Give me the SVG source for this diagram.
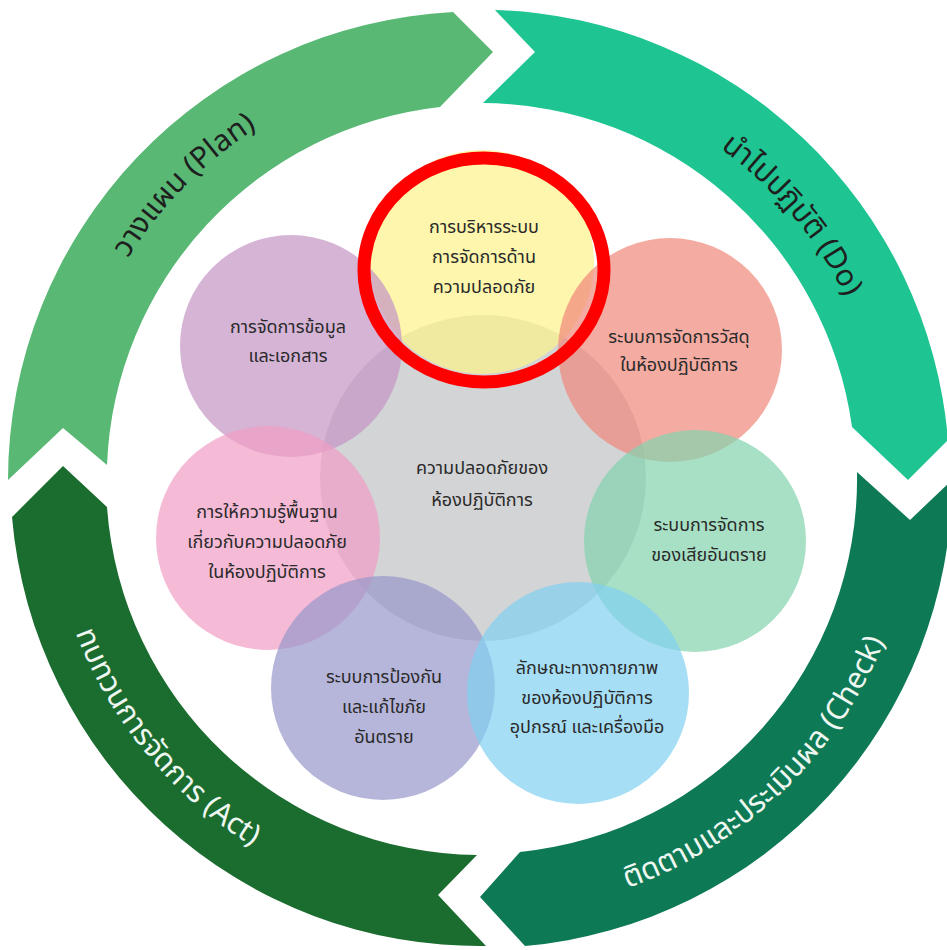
<svg xmlns="http://www.w3.org/2000/svg" width="947" height="950" viewBox="0 0 947 950">
  <style>
    .arrowtxt { font-family: "Noto Sans Thai", "Noto Sans", "DejaVu Sans", sans-serif; font-size: 30px; }
    .dark { fill: #1e1e1e; }
    .light { fill: #eef7f1; }
    .bub { opacity: 0.7; }
    .lbl { font-family: "Noto Sans Thai", "Noto Sans", "DejaVu Sans", sans-serif; font-size: 18px; fill: #2a2a2a; text-anchor: middle; }
  </style>
  <defs>
    <path id="pPlan" d="M 65,480.2 A 415 415 0 0 1 477.8,63"/>
    <path id="pDo" d="M 514.8,71.5 A 408 408 0 0 1 886.5,512.8"/>
    <path id="pCheck" d="M 433.7,911.5 A 436 436 0 0 0 915,448.3"/>
    <path id="pAct" d="M 54.1,399.8 A 433 433 0 0 0 477,911"/>
  </defs>
  <rect width="947" height="950" fill="#ffffff"/>

  <g id="stage-plan">
    <path d="M 8,480 A 469 469 0 0 1 453,12 L 493,52 L 440,107 A 375 375 0 0 0 107,465 L 63,428 Z" fill="#58b874"/>
    <text class="arrowtxt dark"><textPath href="#pPlan" startOffset="50%" text-anchor="middle">วางแผน (Plan)</textPath></text>
  </g>
  <g id="stage-do">
    <path d="M 495,10 A 469 469 0 0 1 948,440 L 908,480 L 852,427 A 375 375 0 0 0 483,103 L 535,52 Z" fill="#1ec491"/>
    <text class="arrowtxt dark"><textPath href="#pDo" startOffset="50%" text-anchor="middle">นำไปปฏิบัติ (Do)</textPath></text>
  </g>
  <g id="stage-check">
    <path d="M 952,480 A 469 469 0 0 1 525,946 L 480,897 L 520,852 A 375 375 0 0 0 857,472 L 910,520 Z" fill="#0e7a55"/>
    <text class="arrowtxt light"><textPath href="#pCheck" startOffset="50%" text-anchor="middle">ติดตามและประเมินผล (Check)</textPath></text>
  </g>
  <g id="stage-act">
    <path d="M 486,946 A 469 469 0 0 1 12,517 L 63,466 L 107,507 A 375 375 0 0 0 477,855 L 438,895 Z" fill="#1b6c2f"/>
    <text class="arrowtxt light"><textPath href="#pAct" startOffset="50%" text-anchor="middle">ทบทวนการจัดการ (Act)</textPath></text>
  </g>

  <g id="center">
    <circle cx="483" cy="478" r="163" fill="#d3d4d6"/>
  </g>
  <g id="n-top">
    <circle class="bub" cx="482" cy="262" r="112" fill="#fcf289"/>
  </g>
  <g id="n-topleft">
    <circle class="bub" cx="291" cy="346" r="111" fill="#c394c4"/>
  </g>
  <g id="n-topright">
    <circle class="bub" cx="670" cy="350" r="112" fill="#ef887a"/>
  </g>
  <g id="n-left">
    <circle class="bub" cx="268" cy="538" r="112" fill="#f19cc4"/>
  </g>
  <g id="n-right">
    <circle class="bub" cx="695" cy="541" r="111" fill="#83d3ae"/>
  </g>
  <g id="n-bottomleft">
    <circle class="bub" cx="383" cy="688" r="112" fill="#9797ca"/>
  </g>
  <g id="n-bottomright">
    <circle class="bub" cx="578" cy="693" r="111" fill="#80d0f1"/>
  </g>

  <g id="labels">
    <text class="lbl" x="484" y="233">การบริหารระบบ</text>
    <text class="lbl" x="484" y="263">การจัดการด้าน</text>
    <text class="lbl" x="484" y="293">ความปลอดภัย</text>
    <text class="lbl" x="288" y="333">การจัดการข้อมูล</text>
    <text class="lbl" x="288" y="362">และเอกสาร</text>
    <text class="lbl" x="679" y="343">ระบบการจัดการวัสดุ</text>
    <text class="lbl" x="679" y="371">ในห้องปฏิบัติการ</text>
    <text class="lbl" x="482" y="474">ความปลอดภัยของ</text>
    <text class="lbl" x="482" y="506">ห้องปฏิบัติการ</text>
    <text class="lbl" x="267" y="518">การให้ความรู้พื้นฐาน</text>
    <text class="lbl" x="267" y="548">เกี่ยวกับความปลอดภัย</text>
    <text class="lbl" x="267" y="578">ในห้องปฏิบัติการ</text>
    <text class="lbl" x="384" y="683">ระบบการป้องกัน</text>
    <text class="lbl" x="384" y="713">และแก้ไขภัย</text>
    <text class="lbl" x="384" y="743">อันตราย</text>
    <text class="lbl" x="709" y="531">ระบบการจัดการ</text>
    <text class="lbl" x="709" y="561">ของเสียอันตราย</text>
    <text class="lbl" x="587" y="674">ลักษณะทางกายภาพ</text>
    <text class="lbl" x="587" y="704">ของห้องปฏิบัติการ</text>
    <text class="lbl" x="587" y="733">อุปกรณ์ และเครื่องมือ</text>
  </g>

  <g id="highlight">
    <ellipse cx="484" cy="270" rx="120" ry="112" fill="none" stroke="#ff0000" stroke-width="13"/>
  </g>
</svg>
